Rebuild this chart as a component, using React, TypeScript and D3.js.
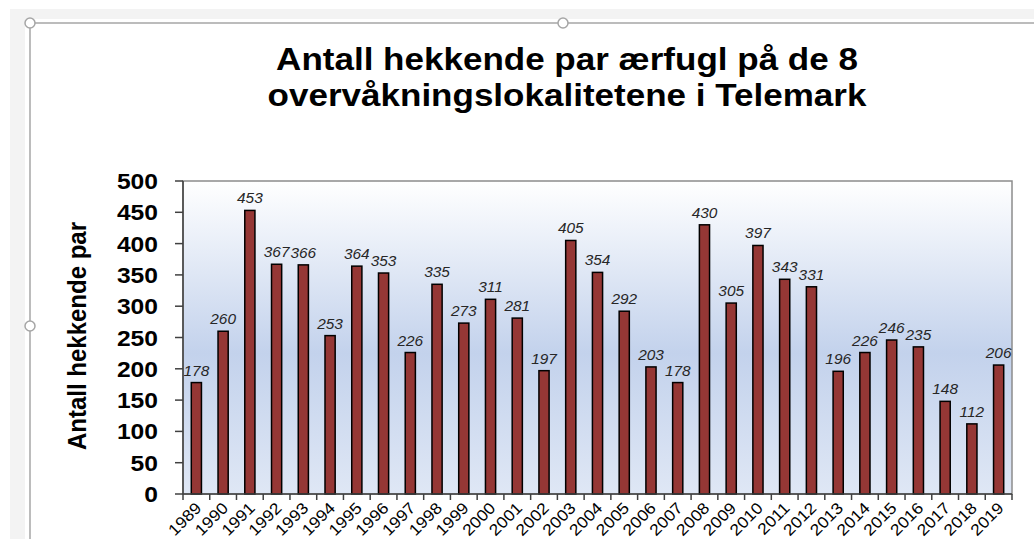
import React from "react";
import * as d3 from "d3";

const years: string[] = [
  "1989","1990","1991","1992","1993","1994","1995","1996","1997","1998",
  "1999","2000","2001","2002","2003","2004","2005","2006","2007","2008",
  "2009","2010","2011","2012","2013","2014","2015","2016","2017","2018","2019",
];
const pairs: number[] = [
  178, 260, 453, 367, 366, 253, 364, 353, 226, 335,
  273, 311, 281, 197, 405, 354, 292, 203, 178, 430,
  305, 397, 343, 331, 196, 226, 246, 235, 148, 112, 206,
];
const yTicks: number[] = [0, 50, 100, 150, 200, 250, 300, 350, 400, 450, 500];
const titleLines: string[] = [
  "Antall hekkende par ærfugl på de 8",
  "overvåkningslokalitetene i Telemark",
];
const yTitle = "Antall hekkende par";

const W = 1034;
const H = 539;
const plot = { left: 183, right: 1012, top: 181, bottom: 494 };
const SX = 1.13;

export default function App() {
  const x = d3.scaleBand<string>().domain(years).range([plot.left, plot.right]).paddingInner(0.62).paddingOuter(0.31);
  const xb = d3.scaleBand<string>().domain(years).range([plot.left, plot.right]);
  const y = d3.scaleLinear().domain([0, 500]).range([plot.bottom, plot.top]);
  const font = "Arial, 'Liberation Sans', sans-serif";
  const handles: [number, number][] = [[30, 23], [563, 23], [30, 326]];

  return (
    <svg width={W} height={H} style={{ position: "absolute", left: 0, top: 0 }} fontFamily={font}>
      <defs>
        <linearGradient id="bg" x1="0" y1="0" x2="0" y2="1">
          <stop offset="0" stopColor="#ffffff" />
          <stop offset="0.55" stopColor="#c3d2ec" />
          <stop offset="1" stopColor="#dfe7f5" />
        </linearGradient>
      </defs>
      <rect x={0} y={0} width={W} height={H} fill="#ffffff" />
      <rect x={10} y={9} width={W - 10} height={10} fill="#f3f3f3" />
      <rect x={10} y={9} width={15} height={H - 9} fill="#f3f3f3" />
      <line x1={30} y1={23} x2={W} y2={23} stroke="#a6a6a6" strokeWidth={1.5} />
      <line x1={30} y1={23} x2={30} y2={H} stroke="#a6a6a6" strokeWidth={1.5} />
      {handles.map(([cx, cy], i) => (
        <circle key={i} cx={cx} cy={cy} r={5} fill="#ffffff" stroke="#a6a6a6" strokeWidth={1.5} />
      ))}

      {titleLines.map((t, i) => (
        <text key={i} transform={`translate(567,${70 + i * 36}) scale(${SX},1)`} textAnchor="middle" fontSize={31} fontWeight="bold" fill="#000">
          {t}
        </text>
      ))}

      <rect x={plot.left} y={plot.top} width={plot.right - plot.left} height={plot.bottom - plot.top} fill="url(#bg)" stroke="#8c8c8c" strokeWidth={1.5} />

      {years.map((yr, i) => {
        const v = pairs[i];
        const bx = x(yr)!;
        return (
          <g key={yr}>
            <rect x={bx} y={y(v)} width={x.bandwidth()} height={y(0) - y(v)} fill="#953735" stroke="#000" strokeWidth={1.5} />
            <text transform={`translate(${bx + x.bandwidth() / 2},${y(v) - 7}) scale(1.1,1)`} textAnchor="middle" fontSize={14} fontStyle="italic" fill="#262626">
              {v}
            </text>
          </g>
        );
      })}

      <line x1={plot.left} y1={plot.top} x2={plot.left} y2={plot.bottom} stroke="#404040" strokeWidth={1.5} />
      <line x1={plot.left} y1={plot.bottom} x2={plot.right} y2={plot.bottom} stroke="#404040" strokeWidth={1.5} />

      {yTicks.map((t) => (
        <g key={t}>
          <line x1={plot.left - 8} x2={plot.left} y1={y(t)} y2={y(t)} stroke="#404040" strokeWidth={1.5} />
          <text transform={`translate(158,${y(t) + 8}) scale(1.12,1)`} textAnchor="end" fontSize={22} fontWeight="bold" fill="#000">
            {t}
          </text>
        </g>
      ))}

      {years.map((yr) => (
        <line key={yr} x1={xb(yr)!} x2={xb(yr)!} y1={plot.bottom} y2={plot.bottom + 6} stroke="#404040" strokeWidth={1.5} />
      ))}
      <line x1={plot.right} x2={plot.right} y1={plot.bottom} y2={plot.bottom + 6} stroke="#404040" strokeWidth={1.5} />

      {years.map((yr) => {
        const cx = xb(yr)! + xb.bandwidth() / 2 + 6;
        return (
          <text key={yr} transform={`translate(${cx},${plot.bottom + 15}) rotate(-45) scale(1.1,1)`} textAnchor="end" fontSize={16} fill="#000">
            {yr}
          </text>
        );
      })}

      <text transform={`translate(86,336) scale(1.08,1) rotate(-90)`} textAnchor="middle" fontSize={24} fontWeight="bold" fill="#000">
        {yTitle}
      </text>
    </svg>
  );
}
